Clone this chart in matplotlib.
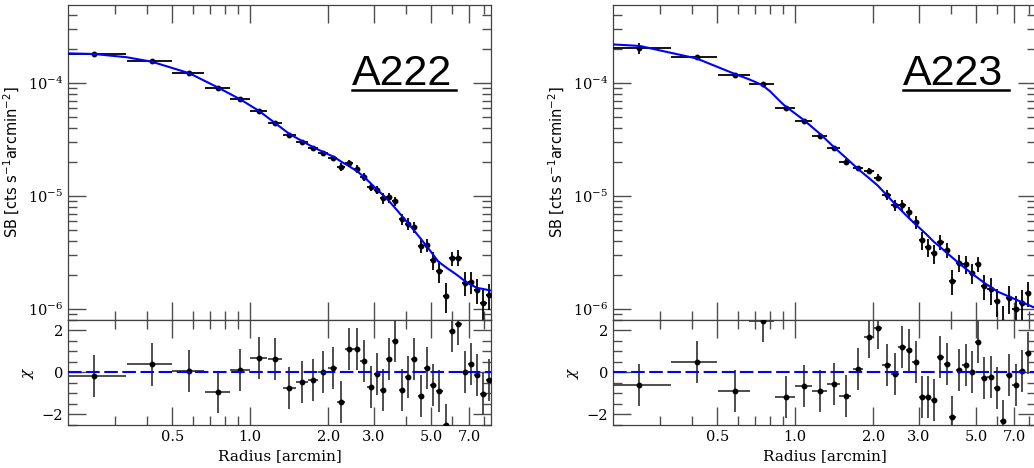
import matplotlib
matplotlib.use("Agg")
import matplotlib.pyplot as plt
from matplotlib.ticker import FixedLocator, FixedFormatter, NullFormatter, LogLocator, MultipleLocator

plt.rcParams["font.family"] = "DejaVu Serif"
plt.rcParams["mathtext.fontset"] = "dejavuserif"

# --- A222 ---
a222_r = [0.25, 0.417, 0.583, 0.75, 0.917, 1.083, 1.25, 1.417, 1.583, 1.75, 1.917, 2.083,
          2.25, 2.417, 2.583, 2.75, 2.917, 3.083, 3.27, 3.45, 3.63, 3.85, 4.06, 4.29,
          4.56, 4.82, 5.08, 5.38, 5.71, 6.03, 6.37, 6.75, 7.11, 7.52, 7.96, 8.39]
a222_r_err = [0.083, 0.083, 0.083, 0.083, 0.083, 0.083, 0.083, 0.083, 0.083, 0.083, 0.083, 0.083,
              0.083, 0.083, 0.083, 0.083, 0.083, 0.083, 0.09, 0.09, 0.1, 0.1, 0.11, 0.12,
              0.13, 0.13, 0.14, 0.15, 0.16, 0.17, 0.18, 0.19, 0.2, 0.21, 0.22, 0.23]
a222_sb = [1.81e-4, 1.57e-4, 1.24e-4, 9.14e-5, 7.22e-5, 5.69e-5, 4.48e-5, 3.51e-5, 3.02e-5,
           2.66e-5, 2.43e-5, 2.20e-5, 1.81e-5, 1.96e-5, 1.75e-5, 1.49e-5, 1.22e-5, 1.14e-5,
           9.60e-6, 9.80e-6, 9.03e-6, 6.26e-6, 5.69e-6, 5.32e-6, 3.65e-6, 3.68e-6, 2.73e-6,
           2.18e-6, 1.31e-6, 2.83e-6, 2.86e-6, 1.72e-6, 1.75e-6, 1.48e-6, 1.14e-6, 1.34e-6]
a222_sb_err = [3e-6, 3e-6, 2.5e-6, 2e-6, 1.6e-6, 1.3e-6, 1.1e-6, 1.0e-6, 9e-7, 8e-7, 8e-7, 8e-7,
               1.5e-6, 1.5e-6, 1.3e-6, 1.1e-6, 1.0e-6, 9e-7, 1.0e-6, 1.0e-6, 9e-7, 6.5e-7, 7e-7, 6e-7,
               5.3e-7, 4.8e-7, 4.8e-7, 4.8e-7, 3.9e-7, 4.0e-7, 4.6e-7, 4.0e-7, 3.8e-7, 3.7e-7, 3.5e-7, 3.5e-7]
a222_chi = [-0.17, 0.38, 0.07, -0.92, 0.10, 0.70, 0.62, -0.73, -0.46, -0.38, 0.03, 0.22,
            -1.40, 1.14, 1.14, 0.54, -0.68, -0.05, -0.84, 0.64, 1.49, -0.84, -0.22, 0.62,
            -1.12, 0.22, -0.60, -0.89, -2.48, 1.97, 2.33, 0.03, 0.41, -0.12, -1.01, -0.35]
a222_model_r = [0.19, 0.25, 0.334, 0.417, 0.583, 0.748, 0.915, 1.083, 1.241, 1.418, 1.755, 2.097,
                2.26, 2.417, 2.582, 2.755, 2.924, 3.085, 3.27, 3.47, 3.686, 3.91, 4.27, 4.60,
                4.955, 5.33, 5.75, 6.28, 6.87, 7.50, 8.6]
a222_model_sb = [1.845e-4, 1.817e-4, 1.70e-4, 1.553e-4, 1.226e-4, 9.22e-5, 7.22e-5, 5.69e-5,
                 4.49e-5, 3.56e-5, 2.71e-5, 2.24e-5, 2.01e-5, 1.84e-5, 1.67e-5, 1.48e-5, 1.30e-5,
                 1.15e-5, 1.02e-5, 8.85e-6, 7.56e-6, 6.43e-6, 5.06e-6, 4.10e-6, 3.30e-6, 2.64e-6,
                 2.32e-6, 2.02e-6, 1.72e-6, 1.55e-6, 1.46e-6]

# --- A223 ---
a223_r = [0.249, 0.416, 0.585, 0.748, 0.918, 1.08, 1.246, 1.41, 1.565, 1.75, 1.926, 2.09,
          2.254, 2.427, 2.589, 2.755, 2.917, 3.092, 3.26, 3.43, 3.64, 3.84, 4.05, 4.30,
          4.55, 4.80, 5.09, 5.37, 5.68, 6.03, 6.36, 6.70, 7.10, 7.50, 7.94]
a223_r_err = [0.083, 0.083, 0.083, 0.083, 0.083, 0.083, 0.083, 0.083, 0.083, 0.083, 0.083, 0.083,
              0.083, 0.083, 0.083, 0.083, 0.083, 0.083, 0.09, 0.09, 0.1, 0.1, 0.11, 0.12,
              0.13, 0.13, 0.14, 0.15, 0.16, 0.17, 0.18, 0.19, 0.2, 0.21, 0.22]
a223_sb = [2.04e-4, 1.70e-4, 1.177e-4, 9.80e-5, 6.10e-5, 4.64e-5, 3.42e-5, 2.66e-5, 2.02e-5,
           1.77e-5, 1.68e-5, 1.46e-5, 1.03e-5, 8.38e-6, 8.38e-6, 7.26e-6, 5.96e-6, 4.10e-6,
           3.54e-6, 3.13e-6, 3.96e-6, 3.35e-6, 1.79e-6, 2.58e-6, 2.50e-6, 2.08e-6, 2.52e-6,
           1.61e-6, 1.50e-6, 1.19e-6, 7.8e-7, 1.25e-6, 1.00e-6, 1.14e-6, 1.40e-6]
a223_sb_err = [2.2e-5, 8e-6, 4e-6, 2e-6, 1.5e-6, 1.2e-6, 1.0e-6, 1.0e-6, 1.0e-6, 1.0e-6, 1.0e-6, 1.0e-6,
               1.0e-6, 9e-7, 9e-7, 8e-7, 8e-7, 7.5e-7, 6.5e-7, 6e-7, 6e-7, 5e-7, 4.5e-7, 4.5e-7,
               4.5e-7, 4.2e-7, 4e-7, 4e-7, 4e-7, 3.3e-7, 3e-7, 3.5e-7, 3.2e-7, 3.3e-7, 3.5e-7]
a223_chi = [-0.59, 0.48, -0.87, 2.43, -1.19, -0.64, -0.90, -0.56, -1.10, 0.17, 1.68, 2.14,
            0.36, -0.08, 1.19, 1.08, 0.52, -1.19, -1.19, -1.30, 0.76, 0.41, -2.13, 0.12,
            0.36, 0.01, 1.44, -0.27, -0.22, -0.75, -2.30, -0.11, -0.59, 0.05, 0.95]
a223_model_r = [0.19, 0.2514, 0.328, 0.416, 0.585, 0.66, 0.70, 0.748, 0.80, 0.873, 0.912, 1.08,
                1.253, 1.41, 1.588, 1.751, 1.914, 2.08, 2.254, 2.427, 2.589, 2.755, 2.917, 3.092,
                3.262, 3.431, 3.641, 3.842, 4.297, 4.799, 5.366, 6.026, 6.946, 8.35, 8.6]
a223_model_sb = [2.22e-4, 2.14e-4, 1.87e-4, 1.66e-4, 1.21e-4, 1.09e-4, 1.03e-4, 9.6e-5, 8.5e-5,
                 6.95e-5, 6.33e-5, 4.73e-5, 3.54e-5, 2.73e-5, 2.14e-5, 1.74e-5, 1.47e-5, 1.25e-5,
                 1.03e-5, 8.55e-6, 7.37e-6, 6.39e-6, 5.65e-6, 5.00e-6, 4.45e-6, 3.96e-6, 3.54e-6,
                 3.17e-6, 2.55e-6, 2.08e-6, 1.72e-6, 1.44e-6, 1.25e-6, 1.04e-6, 1.0e-6]

x_major = [0.5, 1.0, 2.0, 3.0, 5.0, 7.0]
x_labels = ["0.5", "1.0", "2.0", "3.0", "5.0", "7.0"]
x_minor = [0.3, 0.4, 0.6, 0.7, 0.8, 0.9, 4.0, 6.0, 8.0]


def style_ax(ax):
    ax.set_xscale("log")
    ax.set_xlim(0.198, 8.51)
    ax.xaxis.set_major_locator(FixedLocator(x_major))
    ax.xaxis.set_minor_locator(FixedLocator(x_minor))
    ax.xaxis.set_minor_formatter(NullFormatter())
    ax.tick_params(which="both", direction="in", top=True, right=True,
                   color="0.3", labelsize=10.5)
    ax.tick_params(which="major", length=13, width=1)
    ax.tick_params(which="minor", length=6.5, width=1)
    for sp in ax.spines.values():
        sp.set_color("0.25")
        sp.set_linewidth(0.9)


def draw_panel(fig, x0, name, r, r_err, sb, sb_err, chi, model_r, model_sb, text_x, line_x):
    ax = fig.add_axes([x0, 0.3162, 0.4091, 0.6731])
    res = fig.add_axes([x0, 0.0919, 0.4091, 0.2244])

    style_ax(ax)
    ax.set_yscale("log")
    ax.set_ylim(8.04e-7, 4.93e-4)
    ax.yaxis.set_major_locator(LogLocator(base=10))
    ax.yaxis.set_minor_locator(LogLocator(base=10, subs=[2, 3, 4, 5, 6, 7, 8, 9]))
    ax.yaxis.set_minor_formatter(NullFormatter())
    ax.xaxis.set_major_formatter(NullFormatter())
    ax.errorbar(r, sb, xerr=r_err, yerr=sb_err, fmt="o", color="k", ms=3.2,
                elinewidth=1.3, capsize=0, zorder=3)
    ax.plot(model_r, model_sb, color="blue", lw=1.5, zorder=4)
    ax.set_ylabel("SB [cts s$^{-1}$arcmin$^{-2}$]", fontsize=10.5,
                  fontfamily="DejaVu Sans", math_fontfamily="dejavusans")
    ax.text(text_x, 0.746, name, transform=ax.transAxes, fontsize=31,
            family="Liberation Sans", ha="left", va="baseline")
    ax.plot(line_x, [0.7317, 0.7317], transform=ax.transAxes, color="k", lw=1.8,
            clip_on=False)

    style_ax(res)
    res.set_ylim(-2.5, 2.5)
    res.yaxis.set_major_locator(MultipleLocator(2))
    res.yaxis.set_minor_locator(MultipleLocator(0.5))
    res.xaxis.set_major_formatter(FixedFormatter(x_labels))
    res.errorbar(r, chi, xerr=r_err, yerr=[1.0] * len(chi), fmt="o", color="k", ms=3.2,
                 ecolor="0.25", elinewidth=1.3, capsize=0, zorder=3)
    res.axhline(0, color="blue", lw=1.5, ls=(0, (6.5, 2.2)), zorder=4)
    res.set_ylabel(r"$\chi$", fontsize=11)
    res.set_xlabel("Radius [arcmin]", fontsize=11)


fig = plt.figure(figsize=(10.34, 4.68), dpi=100)
draw_panel(fig, 68 / 1034, "A222", a222_r, a222_r_err, a222_sb, a222_sb_err, a222_chi,
           a222_model_r, a222_model_sb, 0.671, [0.671, 0.917])
draw_panel(fig, 613 / 1034, "A223", a223_r, a223_r_err, a223_sb, a223_sb_err, a223_chi,
           a223_model_r, a223_model_sb, 0.686, [0.685, 0.937])
fig.savefig("out.png", dpi=100)
